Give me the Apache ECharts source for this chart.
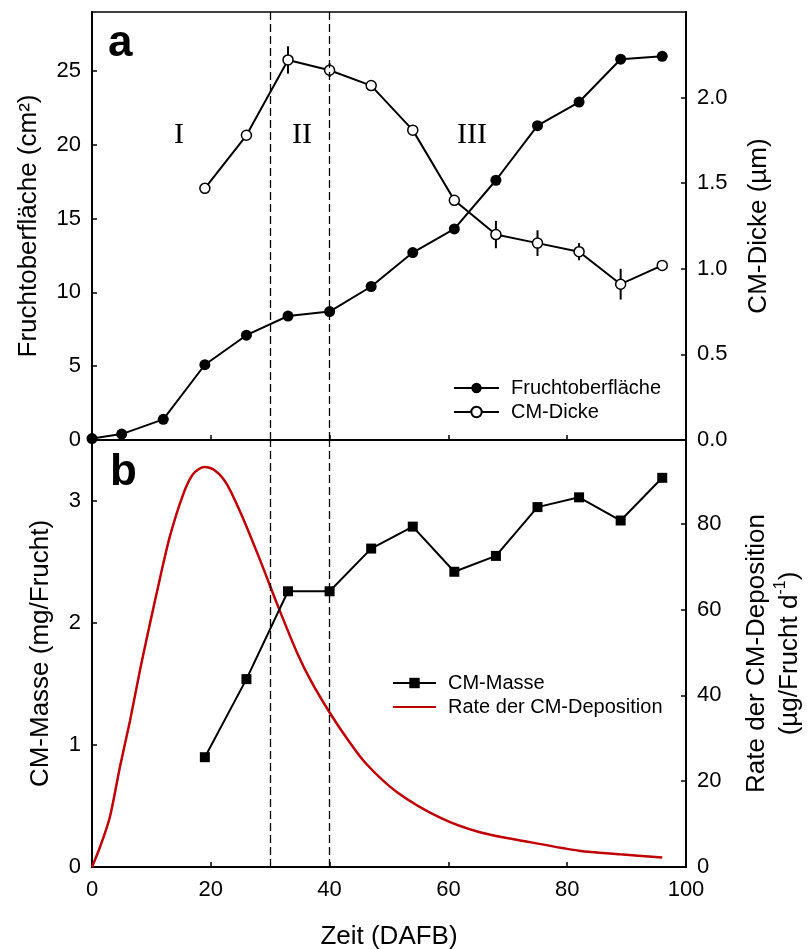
<!DOCTYPE html>
<html>
<head>
<meta charset="utf-8">
<script src="https://cdn.jsdelivr.net/npm/echarts@6/dist/echarts.min.js"></script>
<style>
  html, body { margin: 0; padding: 0; background: #fff; }
  #chart { width: 809px; height: 949px; }
</style>
</head>
<body>
<div id="chart"></div>
<script>
// Panel a: fruit surface (left axis) and CM thickness (right axis)
const days = [0, 5, 12, 19, 26, 33, 40, 47, 54, 61, 68, 75, 82, 89, 96]
const fruitArea = [0.1, 0.4, 1.4, 5.1, 7.1, 8.4, 8.7, 10.4, 12.7, 14.3, 17.6, 21.3, 22.9, 25.8, 26.0]
const cmDays = [19, 26, 33, 40, 47, 54, 61, 68, 75, 82, 89, 96]
const cmThickness = [1.47, 1.78, 2.22, 2.16, 2.07, 1.81, 1.40, 1.20, 1.15, 1.10, 0.91, 1.02]
const cmThicknessErr = [0.03, 0, 0.08, 0.04, 0, 0, 0, 0.08, 0.075, 0.05, 0.09, 0]

// Panel b: CM mass (left axis) and deposition rate (right axis)
const cmMass = [0.90, 1.54, 2.26, 2.26, 2.61, 2.79, 2.42, 2.55, 2.95, 3.03, 2.84, 3.19]
const rateDays = [0, 1.35, 3, 4.7, 6.4, 8.1, 9.8, 11.4, 13.1, 15.4, 17, 18.9, 20.8, 22.7, 25.5, 28.3, 31.1, 34.5, 37, 40, 42.9, 46.2, 51.3, 58.6, 65.3, 73.7, 82, 88.9, 96]
const rateValues = [0, 4.65, 11.6, 23.3, 34.1, 46, 57, 67, 77, 87, 91.5, 93.2, 92.3, 89.2, 81, 71.5, 61.5, 50, 43, 36, 30, 24, 17.5, 11.5, 8.1, 5.8, 3.8, 2.95, 2.2]

const phaseBounds = [30, 40]
const xTicks = [0, 20, 40, 60, 80, 100]

const font = 'Liberation Sans, Arial, sans-serif'
const serif = 'Liberation Serif, Times New Roman, serif'

const pairs = (xs, ys) => xs.map((x, i) => [x, ys[i]])

const xAxisBase = (gridIndex, showLabel) => ({
  type: 'value',
  gridIndex,
  min: xTicks[0],
  max: xTicks[xTicks.length - 1],
  interval: 20,
  splitLine: { show: false },
  axisLine: { lineStyle: { color: '#000', width: 2 } },
  axisTick: { inside: true, length: 5, lineStyle: { color: '#000', width: 1.5 } },
  axisLabel: { show: showLabel, color: '#000', fontSize: 22, fontFamily: font, margin: 12 }
})

const yAxisBase = (gridIndex, position, max, interval, name, nameGap, digits) => ({
  type: 'value',
  gridIndex,
  position,
  min: 0,
  max,
  interval,
  name,
  nameLocation: 'middle',
  nameRotate: 90,
  nameGap,
  nameTextStyle: { color: '#000', fontSize: 26, fontFamily: font },
  splitLine: { show: false },
  axisLine: { show: true, lineStyle: { color: '#000', width: 2 } },
  axisTick: { inside: true, length: 5, lineStyle: { color: '#000', width: 1.5 } },
  axisLabel: {
    color: '#000', fontSize: 22, fontFamily: font, margin: 11, showMaxLabel: false,
    formatter: v => v.toFixed(digits)
  }
})

const dashed = {
  silent: true,
  symbol: 'none',
  label: { show: false },
  lineStyle: { color: '#000', type: [8, 4], width: 1.3 },
  data: phaseBounds.map(x => ({ xAxis: x }))
}

const legendText = { color: '#000', fontSize: 20, fontFamily: font, padding: [0, 0, 0, 7] }
const numeral = (text, x, y) => ({
  type: 'text', x, y,
  style: { text, font: '30px ' + serif, fill: '#000', align: 'center', verticalAlign: 'middle', textAlign: 'center', textVerticalAlign: 'middle' }
})

const chart = echarts.init(document.getElementById('chart'))
chart.setOption({
  animation: false,
  backgroundColor: '#fff',
  grid: [
    { left: 92, right: 123, top: 12, height: 428, show: true, borderColor: '#000', borderWidth: 1.5, outerBoundsMode: 'none', containLabel: false },
    { left: 92, right: 123, top: 440, height: 427, show: true, borderColor: '#000', borderWidth: 1.5, outerBoundsMode: 'none', containLabel: false }
  ],
  xAxis: [xAxisBase(0, false), Object.assign(xAxisBase(1, true), {
    name: 'Zeit (DAFB)',
    nameLocation: 'middle',
    nameGap: 57,
    nameTextStyle: { color: '#000', fontSize: 26, fontFamily: font }
  })],
  yAxis: [
    yAxisBase(0, 'left', 29, 5, 'Fruchtoberfläche (cm²)', 50, 0),
    yAxisBase(0, 'right', 2.5, 0.5, 'CM-Dicke (µm)', 60, 1),
    yAxisBase(1, 'left', 3.5, 1, 'CM-Masse (mg/Frucht)', 38, 0),
    Object.assign(yAxisBase(1, 'right', 99.5, 20, '{a|Rate der CM-Deposition}\n{a|(µg/Frucht d}{s|-1}{a|)}', 54, 0), {
      nameTextStyle: {
        color: '#000', fontFamily: font, lineHeight: 33,
        rich: {
          a: { fontSize: 26, fontFamily: font, color: '#000', lineHeight: 33 },
          s: { fontSize: 16, fontFamily: font, color: '#000', verticalAlign: 'top', lineHeight: 33, padding: [0, 0, 10, 0] }
        }
      }
    })
  ],
  legend: [
    {
      data: ['Fruchtoberfläche', 'CM-Dicke'],
      orient: 'vertical', left: 448, top: 373,
      itemWidth: 45, itemHeight: 13, itemGap: 4,
      textStyle: legendText
    },
    {
      data: ['CM-Masse', 'Rate der CM-Deposition'],
      orient: 'vertical', left: 387, top: 668,
      itemWidth: 43, itemHeight: 13, itemGap: 4,
      textStyle: legendText
    }
  ],
  graphic: [
    { type: 'text', left: 108, top: 22, style: { text: 'a', font: 'bold 44px ' + font, fill: '#000' } },
    { type: 'text', left: 110, top: 451, style: { text: 'b', font: 'bold 44px ' + font, fill: '#000' } },
    numeral('I', 179, 135),
    numeral('II', 302, 135),
    numeral('III', 472, 135)
  ],
  series: [
    {
      name: 'CM-Dicke-err',
      type: 'custom',
      xAxisIndex: 0,
      yAxisIndex: 1,
      z: 1,
      silent: true,
      data: cmDays.map((x, i) => [x, cmThickness[i], cmThicknessErr[i]]),
      renderItem: (params, api) => {
        const x = api.value(0), y = api.value(1), e = api.value(2)
        const lo = api.coord([x, y - e])
        const hi = api.coord([x, y + e])
        return {
          type: 'line',
          shape: { x1: lo[0], y1: lo[1], x2: hi[0], y2: hi[1] },
          style: { stroke: '#000', lineWidth: 2 }
        }
      }
    },
    {
      name: 'Fruchtoberfläche',
      type: 'line',
      xAxisIndex: 0,
      yAxisIndex: 0,
      z: 3,
      data: pairs(days, fruitArea),
      symbol: 'circle',
      symbolSize: 11,
      itemStyle: { color: '#000' },
      lineStyle: { color: '#000', width: 2 },
      markLine: dashed
    },
    {
      name: 'CM-Dicke',
      type: 'line',
      xAxisIndex: 0,
      yAxisIndex: 1,
      z: 3,
      data: pairs(cmDays, cmThickness),
      symbol: 'circle',
      symbolSize: 10,
      itemStyle: { color: '#fff', borderColor: '#000', borderWidth: 1.5 },
      lineStyle: { color: '#000', width: 2 }
    },
    {
      name: 'CM-Masse',
      type: 'line',
      xAxisIndex: 1,
      yAxisIndex: 2,
      z: 3,
      data: pairs(cmDays, cmMass),
      symbol: 'rect',
      symbolSize: 10,
      itemStyle: { color: '#000' },
      lineStyle: { color: '#000', width: 2 },
      markLine: dashed
    },
    {
      name: 'Rate der CM-Deposition',
      type: 'line',
      xAxisIndex: 1,
      yAxisIndex: 3,
      z: 2,
      data: pairs(rateDays, rateValues),
      showSymbol: false,
      symbol: 'none',
      smooth: 0.3,
      itemStyle: { color: '#c00000', opacity: 0 },
      lineStyle: { color: '#c00000', width: 2.5, opacity: 1 }
    }
  ]
})
</script>
</body>
</html>
